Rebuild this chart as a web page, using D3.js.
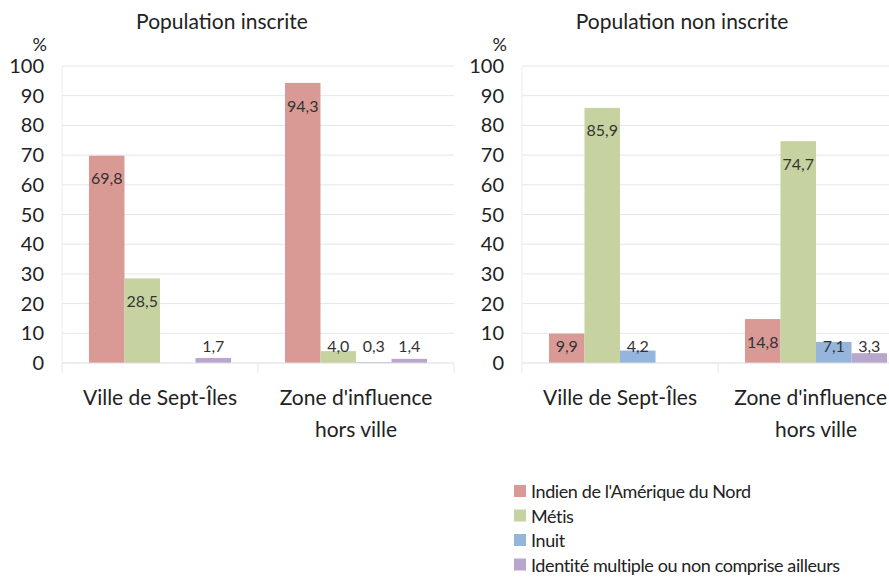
<!DOCTYPE html>
<html><head><meta charset="utf-8">
<script src="https://cdn.jsdelivr.net/npm/d3@7/dist/d3.min.js"></script>
<style>body{margin:0;background:#fff}svg{display:block}text{font-family:Lato,"Open Sans",sans-serif;fill:#222}</style>
</head><body><svg id="c" width="889" height="584"></svg>
<script>
const categories = [["Ville de Sept-Îles"], ["Zone d'influence", "hors ville"]];
const seriesNames = ["Indien de l'Amérique du Nord", "Métis", "Inuit", "Identité multiple ou non comprise ailleurs"];
const seriesColors = ["#d99a95", "#c6d3a1", "#96b5dc", "#b9a6cf"];
const panelTitles = ["Population inscrite", "Population non inscrite"];
// values per category: [Indien, Métis, Inuit, Identité]
const inscriteValues = [[69.8, 28.5, null, 1.7], [94.3, 4.0, 0.3, 1.4]];
const nonInscriteValues = [[9.9, 85.9, 4.2, null], [14.8, 74.7, 7.1, 3.3]];
const yTicks = [0, 10, 20, 30, 40, 50, 60, 70, 80, 90, 100];

const W = 889;
const svg = d3.select("#c");
const fmt = v => d3.format(".1f")(v).replace(".", ",");

function panel(x0, x1, title, values) {
  const g = svg.append("g");
  const y = d3.scaleLinear().domain([0, 100]).range([363, 66]);
  const x = d3.scaleBand().domain(d3.range(categories.length)).range([x0, x1]);
  const inner = d3.scaleBand().domain(d3.range(seriesNames.length)).range([0, x.bandwidth()]).paddingOuter(0.76).paddingInner(0);

  g.selectAll("line.grid").data(yTicks.slice(1)).join("line")
    .attr("x1", x0).attr("x2", x1).attr("y1", d => y(d)).attr("y2", d => y(d))
    .attr("stroke", "#e6e6e6").attr("stroke-width", 1);
  g.append("line").attr("x1", x0).attr("x2", x0).attr("y1", y(100)).attr("y2", y(0)).attr("stroke", "#ececec");
  g.selectAll("text.yt").data(yTicks).join("text")
    .attr("x", x0 - 18).attr("y", d => y(d)).attr("dy", "0.35em")
    .attr("text-anchor", "end").style("font-size", "20px").text(d => d);
  g.append("text").attr("x", x0 - 15).attr("y", 45).attr("dy", "0.35em")
    .attr("text-anchor", "end").style("font-size", "18px").text("%");
  g.append("text").attr("x", (x0 + x1) / 2 - 36).attr("y", 22).attr("dy", "0.35em")
    .attr("text-anchor", "middle").style("font-size", "21px").text(title);

  values.forEach((vals, ci) => {
    const cg = g.append("g").attr("transform", `translate(${x(ci)},0)`);
    const data = vals.map((v, si) => ({v, si})).filter(d => d.v !== null);
    cg.selectAll("rect").data(data).join("rect")
      .attr("x", d => inner(d.si)).attr("width", inner.bandwidth())
      .attr("y", d => y(d.v)).attr("height", d => y(0) - y(d.v))
      .attr("fill", d => seriesColors[d.si]);
    cg.selectAll("text").data(data).join("text")
      .attr("x", d => inner(d.si) + inner.bandwidth() / 2)
      .attr("y", d => Math.min(y(d.v) + 23, 346)).attr("dy", "0.35em")
      .attr("text-anchor", "middle").style("font-size", "16px").style("fill", "#333")
      .text(d => fmt(d.v));
  });

  g.append("line").attr("x1", x0).attr("x2", x1).attr("y1", y(0)).attr("y2", y(0)).attr("stroke", "#dcdcdc");
  d3.range(categories.length + 1).forEach(i => {
    const xx = x0 + i * x.step();
    g.append("line").attr("x1", xx).attr("x2", xx).attr("y1", y(0)).attr("y2", y(0) + 10).attr("stroke", "#e6e6e6");
  });
  categories.forEach((lines, ci) => {
    lines.forEach((ln, li) => {
      const cx = x(ci) + x.bandwidth() / 2;
      const t = g.append("text").attr("x", cx).attr("y", 398 + li * 32).attr("dy", "0.35em")
        .attr("text-anchor", "middle").style("font-size", "21px").text(ln);
      const w = t.node().getComputedTextLength();
      if (cx + w / 2 > W - 2) t.attr("x", W - 2 - w / 2);
    });
  });
}

panel(62, 454, panelTitles[0], inscriteValues);
panel(522, 914, panelTitles[1], nonInscriteValues);

const lg = svg.append("g");
seriesNames.forEach((name, i) => {
  const yy = 492 + i * 24.5;
  lg.append("rect").attr("x", 514).attr("y", yy - 7).attr("width", 12).attr("height", 12).attr("fill", seriesColors[i]);
  lg.append("text").attr("x", 531).attr("y", yy).attr("dy", "0.35em")
    .style("font-size", "18px").style("letter-spacing", "-0.4px").text(name);
});
</script></body></html>
